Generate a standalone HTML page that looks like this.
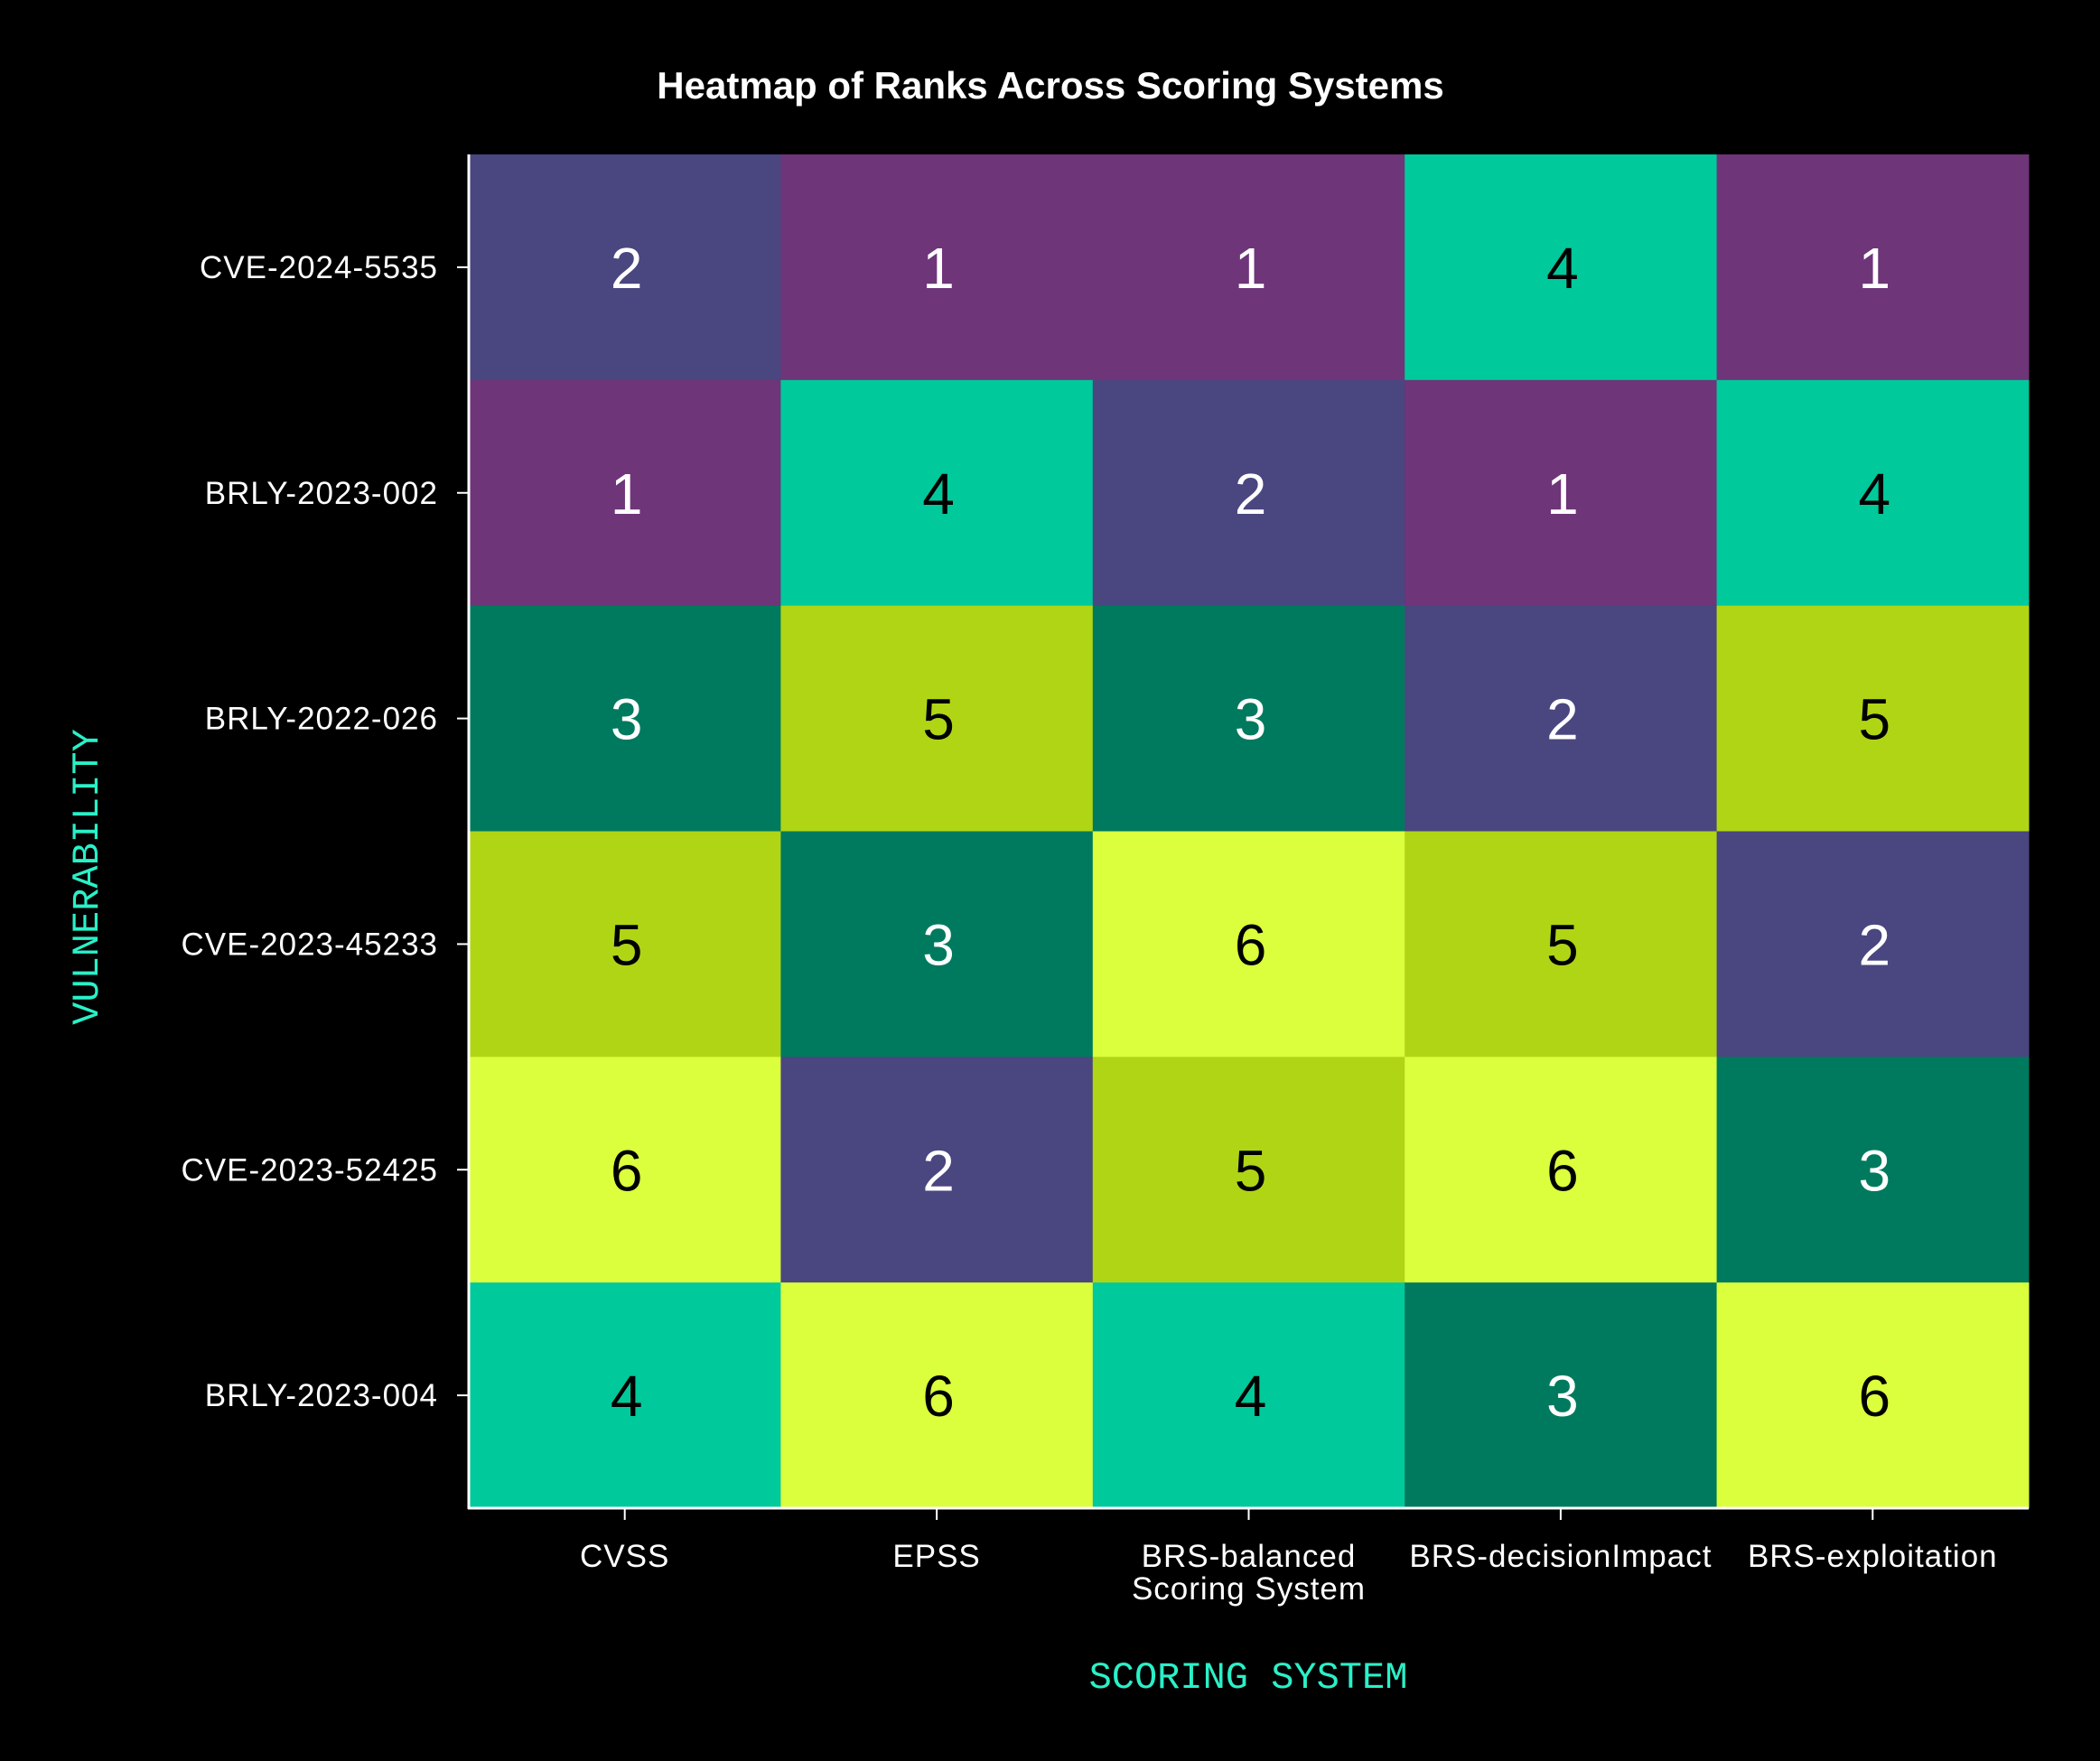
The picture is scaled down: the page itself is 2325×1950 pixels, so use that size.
<!DOCTYPE html>
<html><head><meta charset="utf-8">
<style>
html,body{margin:0;padding:0;background:#000;}
svg{display:block;}
</style></head>
<body>
<svg id="chart" width="2325" height="1950" viewBox="0 0 2325 1950" xmlns="http://www.w3.org/2000/svg">
<rect x="0" y="0" width="2325" height="1950" fill="#000"/>
<text x="1163" y="109" text-anchor="middle" font-family="Liberation Sans, sans-serif" font-weight="bold" font-size="42" fill="#fff">Heatmap of Ranks Across Scoring Systems</text>
<g id="cells"></g>
<g id="axes"></g>
<text x="1382" y="1869" text-anchor="middle" font-family="Liberation Mono, monospace" font-size="42" fill="#2af0c8">SCORING SYSTEM</text>
<text transform="translate(108,971) rotate(-90)" text-anchor="middle" font-family="Liberation Mono, monospace" font-size="42" fill="#2af0c8">VULNERABILITY</text>
</svg>
<script>
const systems = ["CVSS","EPSS","BRS-balanced\nScoring System","BRS-decisionImpact","BRS-exploitation"];
const vulns = ["CVE-2024-5535","BRLY-2023-002","BRLY-2022-026","CVE-2023-45233","CVE-2023-52425","BRLY-2023-004"];
const ranks = [
  [2,1,1,4,1],
  [1,4,2,1,4],
  [3,5,3,2,5],
  [5,3,6,5,2],
  [6,2,5,6,3],
  [4,6,4,3,6]
];
const palette = ["#6e3579","#4a4680","#007a5e","#00c99c","#b0d515","#dbff3d"];

const NS = "http://www.w3.org/2000/svg";
const L = 519, R = 2246, T = 171, B = 1670;
const cw = (R - L) / systems.length, ch = (B - T) / vulns.length;
function xPos(i){ return L + i * cw; }
function yPos(j){ return T + j * ch; }
function mk(tag, attrs){ const e = document.createElementNS(NS, tag); for (const k in attrs) e.setAttribute(k, attrs[k]); return e; }

const cells = document.getElementById("cells");
ranks.forEach((row, j) => {
  row.forEach((v, i) => {
    const r = mk("rect", {x: xPos(i), y: yPos(j), width: cw + 0.5, height: ch + 0.5, fill: palette[v - 1]});
    
    
    cells.appendChild(r);
    const t = mk("text", {x: xPos(i) + cw / 2 + 2, y: yPos(j) + ch / 2 + 23, "text-anchor": "middle", "font-family": "Liberation Sans, sans-serif", "font-size": "64", fill: v >= 4 ? "#000" : "#fff"});
    t.textContent = v;
    
    
    cells.appendChild(t);
  });
});

const axes = document.getElementById("axes");
const yl = mk("line", {x1: L, y1: T, x2: L, y2: B + 1, stroke: "#fff", "stroke-width": 3});


axes.appendChild(yl);
const xl = mk("line", {x1: L - 1, y1: B, x2: R, y2: B, stroke: "#fff", "stroke-width": 3});


axes.appendChild(xl);

vulns.forEach((name, j) => {
  const cy = yPos(j) + ch / 2;
  const tk = mk("line", {x1: L - 13, y1: cy, x2: L, y2: cy, stroke: "#fff", "stroke-width": 2});
  
  
  axes.appendChild(tk);
  const t = mk("text", {x: 485, y: cy + 12, "text-anchor": "end", "font-family": "Liberation Sans, sans-serif", "font-size": "35", "letter-spacing": "1", fill: "#fff"});
  t.textContent = name;
  
  
  axes.appendChild(t);
});

systems.forEach((name, i) => {
  const cx = xPos(i) + cw / 2;
  const tk = mk("line", {x1: cx, y1: B, x2: cx, y2: B + 13, stroke: "#fff", "stroke-width": 2});
  
  
  axes.appendChild(tk);
  name.split("\n").forEach((line, k) => {
    const t = mk("text", {x: cx, y: 1735 + k * 36, "text-anchor": "middle", "font-family": "Liberation Sans, sans-serif", "font-size": "35", "letter-spacing": "1", fill: "#fff"});
    t.textContent = line;
    
    
    axes.appendChild(t);
  });
});
</script>
</body></html>
